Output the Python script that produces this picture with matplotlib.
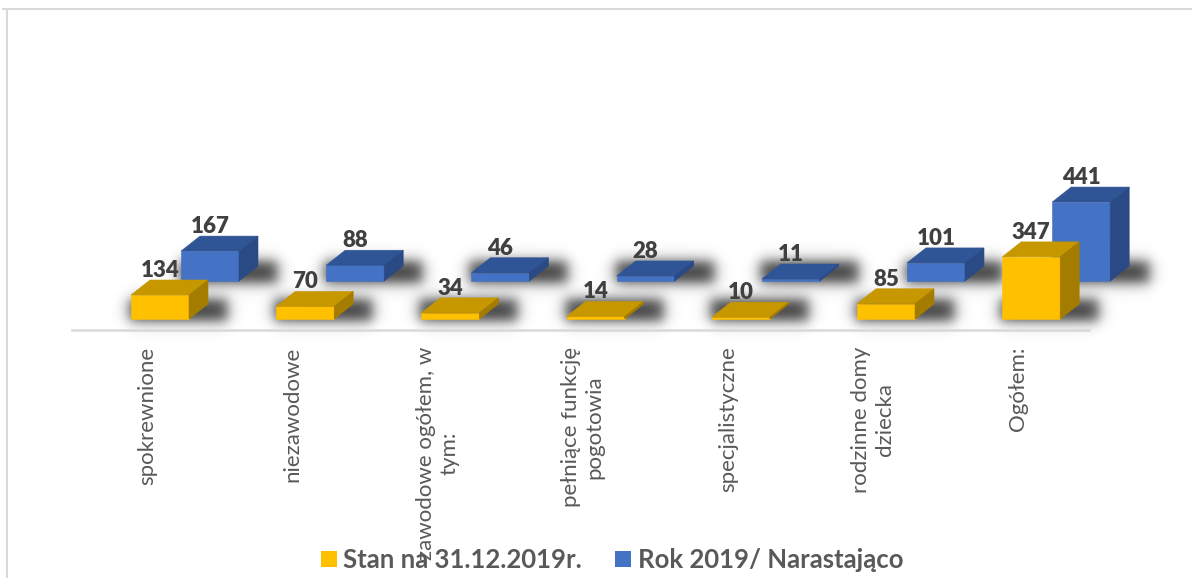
import numpy as np
import matplotlib.pyplot as plt
from matplotlib.patches import Polygon, Patch
from matplotlib.lines import Line2D

categories = ["spokrewnione", "niezawodowe", "zawodowe ogółem, w\ntym:",
              "pełniące funkcję\npogotowia", "specjalistyczne",
              "rodzinne domy\ndziecka", "Ogółem:"]
stan_2019 = [134, 70, 34, 14, 10, 85, 347]
rok_2019 = [167, 88, 46, 28, 11, 101, 441]
series_names = ["Stan na 31.12.2019r.", "Rok 2019/ Narastająco"]

W, H = 1192, 578
PX_X = 145.2   # pixels per category step
PX_Y = 0.179   # pixels per unit of value

# box geometry, in category / value units
bar_w = 58 / PX_X
depth_x = 19 / PX_X
depth_y = 15 / PX_Y
back_x = 50 / PX_X
back_y = 38 / PX_Y

yellow = ("#FFC000", "#C79700", "#A47C00")
blue = ("#4472C4", "#2F5597", "#2A4A85")

fig = plt.figure(figsize=(W / 100, H / 100), dpi=100)
ax = fig.add_axes([72 / W, (H - 330) / H, (1089 - 72) / W, (330 - 20) / H])


def draw_box(xc, base, h, colors, z):
    front, top, side = colors
    x0, x1 = xc - bar_w / 2, xc + bar_w / 2
    y0, y1 = base, base + h
    faces = [
        ([(x0, y0), (x1, y0), (x1, y1), (x0, y1)], front),
        ([(x0, y1), (x1, y1), (x1 + depth_x, y1 + depth_y),
          (x0 + depth_x, y1 + depth_y)], top),
        ([(x1, y0), (x1 + depth_x, y0 + depth_y),
          (x1 + depth_x, y1 + depth_y), (x1, y1)], side),
    ]
    for pts, c in faces:
        ax.add_patch(Polygon(pts, closed=True, fc=c, ec=c, lw=0.4,
                             zorder=z, clip_on=False))


def draw_shadow(xc, base):
    # soft blurred blob on the floor behind each box
    s = 8.0
    xa = xc - bar_w / 2 - 2 / PX_X
    xb = xc + bar_w / 2 + depth_x + 20 / PX_X
    ya = base - 2 / PX_Y
    yb = base + depth_y + 5 / PX_Y
    m = 3 * s
    left, right = xa - m / PX_X, xb + m / PX_X
    bottom, top = ya - m / PX_Y, yb + m / PX_Y
    nx = int((right - left) * PX_X)
    ny = int((top - bottom) * PX_Y)
    gx = np.linspace(left, right, nx)
    gy = np.linspace(bottom, top, ny)
    fx = 0.5 * (np.tanh((gx - xa) * PX_X / s) - np.tanh((gx - xb) * PX_X / s))
    fy = 0.5 * (np.tanh((gy - ya) * PX_Y / s) - np.tanh((gy - yb) * PX_Y / s))
    img = np.zeros((ny, nx, 4))
    img[..., 3] = 0.78 * np.outer(fy, fx)
    im = ax.imshow(img, extent=(left, right, bottom, top), origin="lower",
                   aspect="auto", interpolation="bilinear", zorder=1)
    im.set_clip_on(False)


xs = np.arange(len(categories))
for i in xs:
    draw_shadow(i + back_x, back_y)
    draw_shadow(i, 0)

for i, v in zip(xs, rok_2019):
    draw_box(i + back_x, back_y, v, blue, 2)
    ax.text(i + back_x, back_y + v + depth_y + 3 / PX_Y, str(v), ha="center",
            va="baseline", fontsize=16, fontweight="heavy", color="#404040",
            family="Lato", zorder=5, clip_on=False)

for i, v in zip(xs, stan_2019):
    draw_box(i, 0, v, yellow, 3)
    ax.text(i, v + depth_y + 3 / PX_Y, str(v), ha="center", va="baseline",
            fontsize=16, fontweight="heavy", color="#404040", family="Lato",
            zorder=5, clip_on=False)

ax.set_xlim((72 - 160) / PX_X, (1089 - 160) / PX_X)
ax.set_ylim(-(330 - 319) / PX_Y, (319 - 20) / PX_Y)

for side in ("top", "left", "right"):
    ax.spines[side].set_visible(False)
ax.spines["bottom"].set_color("#D9D9D9")
ax.spines["bottom"].set_linewidth(1.8)
ax.set_yticks([])
ax.set_xticks(xs - 13 / PX_X, categories, rotation=90, fontsize=16,
              color="#595959", family="Lato")
for lbl in ax.get_xticklabels():
    lbl.set_multialignment("center")
ax.tick_params(axis="x", length=0, pad=12)

handles = [Patch(fc=yellow[0]), Patch(fc=blue[0])]
leg = fig.legend(handles, series_names, loc="center",
                 bbox_to_anchor=(612 / W, 1 - 560 / H), ncol=2, frameon=False,
                 prop={"family": "Lato", "weight": "bold", "size": 18.5},
                 handlelength=0.62, handleheight=0.62, handletextpad=0.25,
                 columnspacing=1.3)
for t in leg.get_texts():
    t.set_color("#595959")

# outer chart frame
fig.add_artist(Line2D([7 / W, 7 / W], [0, 1 - 9 / H], transform=fig.transFigure,
                      color="#D9D9D9", lw=1.5))
fig.add_artist(Line2D([3 / W, 1], [1 - 9 / H, 1 - 9 / H],
                      transform=fig.transFigure, color="#D9D9D9", lw=1.5))

fig.savefig("out.png", dpi=100)
